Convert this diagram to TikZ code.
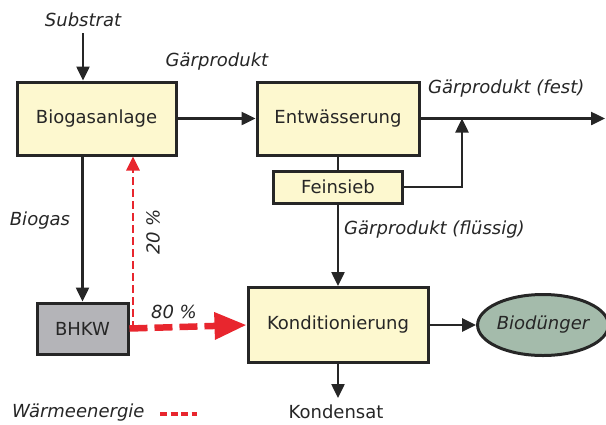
\documentclass[tikz,border=0pt]{standalone}
\usepackage{fontspec}
\setmainfont{DejaVu Sans}
\usetikzlibrary{arrows.meta,shapes.geometric}
\definecolor{boxfill}{HTML}{FDF8CF}
\definecolor{bhkwfill}{HTML}{B4B4B8}
\definecolor{ellfill}{HTML}{A4BBAB}
\definecolor{heat}{HTML}{E8262E}
\definecolor{ink}{HTML}{262626}
\newcommand{\labfont}{\fontsize{18}{20}\selectfont}
\begin{document}
\begin{tikzpicture}[x=1pt,y=-1pt,
  every node/.style={text=ink},
  box/.style={draw=ink, line width=3pt, fill=boxfill, inner sep=0pt,
              font=\labfont, anchor=center},
  lab/.style={font=\labfont\itshape, inner sep=0pt},
  flow/.style={draw=ink, line width=2.5pt, -{Triangle[length=14pt,width=13pt]}},
  line/.style={draw=ink, line width=2.5pt},
  heatmain/.style={draw=heat, line width=6.5pt, dash pattern=on 18pt off 7pt,
                   -{Triangle[length=32pt,width=26pt]}},
  heatthin/.style={draw=heat, line width=2.8pt, dash pattern=on 8pt off 4pt,
                   -{Triangle[length=14pt,width=13pt]}}
]
\useasboundingbox (0,0) rectangle (606,424);

% process blocks
\node[box, minimum width=159pt, minimum height=73pt] (bio)  at (96.5,118.5) {Biogasanlage};
\node[box, minimum width=162pt, minimum height=73pt] (ent)  at (338,118.5) {Entwässerung};
\node[box, minimum width=129pt, minimum height=32pt] (fein) at (338,187) {Feinsieb};
\node[box, minimum width=180pt, minimum height=75pt] (kond) at (338,325) {Konditionierung};
\node[box, fill=bhkwfill, minimum width=91pt, minimum height=51pt] (bhkw) at (82.5,328.5) {BHKW};
\node[ellipse, draw=ink, line width=3pt, fill=ellfill, minimum width=118pt,
      minimum height=61pt, inner sep=0pt, font=\labfont\itshape] (ell) at (543,325) {Biodünger};

% free ends of connectors
\coordinate (sub) at (83,33);
\coordinate (out) at (605,118.5);
\coordinate (jn)  at (462,118.5);
\coordinate (kd)  at (338,398);
\coordinate (split) at (133,328.5);

% material flows
\draw[flow] (sub) -- (sub |- bio.north);
\draw[flow] (bio.east) -- (ent.west);
\draw[flow] (ent.east) -- (out);
\draw[line] (ent.south) -- (fein.north);
\draw[flow] (fein.east) -| (jn);
\draw[flow] (fein.south) -- (kond.north);
\draw[flow] (kond.east) -- (ell.west);
\draw[flow] (kond.south) -- (kd);
\draw[flow] (bio.south -| bhkw.north) -- (bhkw.north);

% heat flows
\draw[heatthin] (split) -- (split |- bio.south);
\draw[heatmain] (bhkw.east) -- (kond.west);

% labels
\node[lab] (lsub)  at (83,20) {Substrat};
\node[lab] (lgp)   at (217,62) {Gärprodukt};
\node[lab, anchor=west] (lfest) at (428,89) {Gärprodukt (fest)};
\node[lab] (lbg)   at (40,221) {Biogas};
\node[lab, rotate=90] (l20) at (153,232) {20 \%};
\node[lab] (l80)   at (174,312) {80 \%};
\node[lab, anchor=west] (lfl) at (344,230) {Gärprodukt (flüssig)};
\node[font=\labfont, inner sep=0pt] (lkd) at (336,412) {Kondensat};

% legend
\node[lab, anchor=west] (lw) at (12,413) {Wärmeenergie};
\coordinate (lega) at (160,414);
\coordinate (legb) at (197,414);
\draw[draw=heat, line width=3.5pt, dash pattern=on 7pt off 3.5pt] (lega) -- (legb);
\end{tikzpicture}
\end{document}
